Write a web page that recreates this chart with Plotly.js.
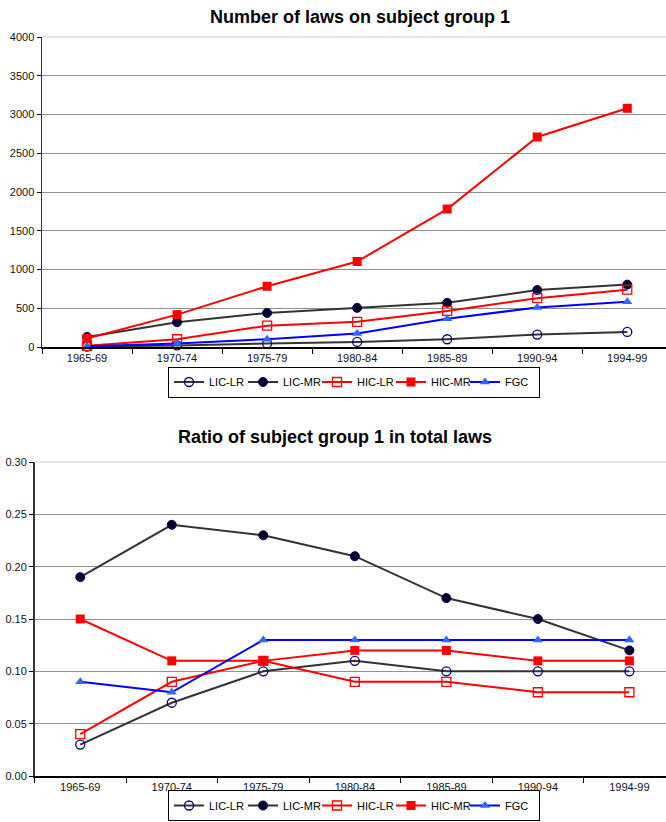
<!DOCTYPE html>
<html>
<head>
<meta charset="utf-8">
<script src="https://cdn.plot.ly/plotly-3.0.1.min.js"></script>
<style>
  html, body { margin: 0; padding: 0; background: #ffffff; }
  #chart { width: 666px; height: 822px; }
</style>
</head>
<body>
<div id="chart"></div>
<script>
// Five-year periods on the category axis
const periods = ['1965-69', '1970-74', '1975-79', '1980-84', '1985-89', '1990-94', '1994-99'];
const seriesNames = ['LIC-LR', 'LIC-MR', 'HIC-LR', 'HIC-MR', 'FGC'];

// Number of laws on subject group 1
const lawsLicLr = [5, 20, 45, 65, 100, 160, 195];
const lawsLicMr = [130, 320, 440, 505, 570, 735, 805];
const lawsHicLr = [15, 100, 275, 325, 465, 630, 740];
const lawsHicMr = [110, 418, 784, 1103, 1780, 2710, 3080];
const lawsFgc   = [10, 45, 100, 175, 365, 510, 585];

// Ratio of subject group 1 in total laws
const ratioLicLr = [0.03, 0.07, 0.10, 0.11, 0.10, 0.10, 0.10];
const ratioLicMr = [0.19, 0.24, 0.23, 0.21, 0.17, 0.15, 0.12];
const ratioHicLr = [0.04, 0.09, 0.11, 0.09, 0.09, 0.08, 0.08];
const ratioHicMr = [0.15, 0.11, 0.11, 0.12, 0.12, 0.11, 0.11];
const ratioFgc   = [0.09, 0.08, 0.13, 0.13, 0.13, 0.13, 0.13];

// y-axis tick values
const lawsTicks = [0, 500, 1000, 1500, 2000, 2500, 3000, 3500, 4000];
const ratioTicks = [0, 0.05, 0.10, 0.15, 0.20, 0.25, 0.30];

const styles = [
  { line: '#333333', marker: { symbol: 'circle-open', color: '#000080', size: 9, line: { width: 1.3, color: '#000080' } } },
  { line: '#333333', marker: { symbol: 'circle', color: '#000022', size: 9, line: { width: 1, color: '#000080' } } },
  { line: '#ff0000', marker: { symbol: 'square-open', color: '#ff0000', size: 9, line: { width: 1.3, color: '#ff0000' } } },
  { line: '#ff0000', marker: { symbol: 'square', color: '#ff0000', size: 9, line: { width: 0 } } },
  { line: '#0000ff', marker: { symbol: 'triangle-up', color: '#3366ff', size: 9, line: { width: 0 } } }
];

const lawsData = [lawsLicLr, lawsLicMr, lawsHicLr, lawsHicMr, lawsFgc];
const ratioData = [ratioLicLr, ratioLicMr, ratioHicLr, ratioHicMr, ratioFgc];

const traces = [];
seriesNames.forEach((name, i) => {
  traces.push({
    type: 'scatter', mode: 'lines+markers', name: name,
    x: periods, y: lawsData[i], xaxis: 'x', yaxis: 'y', legend: 'legend',
    line: { color: styles[i].line, width: 2 },
    marker: styles[i].marker,
    cliponaxis: false
  });
});
seriesNames.forEach((name, i) => {
  traces.push({
    type: 'scatter', mode: 'lines+markers', name: name,
    x: periods, y: ratioData[i], xaxis: 'x2', yaxis: 'y2', legend: 'legend2',
    line: { color: styles[i].line, width: 2 },
    marker: styles[i].marker,
    cliponaxis: false
  });
});

const W = 666, H = 822;
const px = v => v / W;
const py = v => (H - v) / H;

const tickFont = { family: 'Arial, Liberation Sans, sans-serif', size: 11, color: '#111111' };

const catAxis = (left, max) => ({
  domain: [px(left), 1],
  type: 'category',
  range: [-0.5, max],
  tickson: 'boundaries',
  ticks: 'outside', ticklen: 5, tickcolor: '#000000', tickwidth: 1,
  showline: true, linecolor: '#000000', linewidth: 1.5,
  showgrid: false, zeroline: false,
  tickfont: tickFont, fixedrange: true
});

const valAxis = (top, bottom, range, ticks, fmt) => ({
  domain: [py(bottom), py(top)],
  range: range,
  tickmode: 'array', tickvals: ticks, tickformat: fmt,
  ticks: 'outside', ticklen: 4, tickcolor: '#000000', tickwidth: 1,
  showline: true, linecolor: '#333333', linewidth: 1.5,
  showgrid: true, gridcolor: '#8f8f8f', gridwidth: 1,
  zeroline: false,
  tickfont: tickFont, fixedrange: true
});

const legendBase = {
  orientation: 'h',
  xanchor: 'center',
  bgcolor: '#ffffff', bordercolor: '#000000', borderwidth: 1,
  font: { family: 'Arial, Liberation Sans, sans-serif', size: 11, color: '#000000' },
  itemwidth: 30, entrywidth: 29, entrywidthmode: 'pixels',
  tracegroupgap: 0
};

const titleFont = { family: 'Arial, Liberation Sans, sans-serif', size: 18, color: '#000000', weight: 'bold' };

const layout = {
  width: W, height: H,
  margin: { l: 0, r: 0, t: 0, b: 0, autoexpand: false },
  paper_bgcolor: '#ffffff', plot_bgcolor: '#ffffff',
  showlegend: true,
  xaxis: catAxis(42, 6.43),
  yaxis: Object.assign(valAxis(37, 347, [0, 4000], lawsTicks, 'd'), { anchor: 'x' }),
  xaxis2: Object.assign(catAxis(34.5, 6.40), { anchor: 'y2' }),
  yaxis2: Object.assign(valAxis(462, 776, [0, 0.30], ratioTicks, '.2f'), { anchor: 'x2' }),
  legend: Object.assign({}, legendBase, { x: px(354), y: py(382), yanchor: 'middle' }),
  legend2: Object.assign({}, legendBase, { x: px(354), y: py(821), yanchor: 'bottom' }),
  shapes: [
    // lighter frame edge along the top of each plot area
    { type: 'line', xref: 'x domain', yref: 'y domain', x0: 0, x1: 1, y0: 1, y1: 1,
      line: { color: '#dedede', width: 1.5 }, layer: 'above' },
    { type: 'line', xref: 'x2 domain', yref: 'y2 domain', x0: 0, x1: 1, y0: 1, y1: 1,
      line: { color: '#dedede', width: 1.5 }, layer: 'above' }
  ],
  annotations: [
    { text: '<b>Number of laws on subject group 1</b>', xref: 'paper', yref: 'paper',
      x: px(360), y: py(17), xanchor: 'center', yanchor: 'middle', showarrow: false, font: titleFont },
    { text: '<b>Ratio of subject group 1 in total laws</b>', xref: 'paper', yref: 'paper',
      x: px(335), y: py(437), xanchor: 'center', yanchor: 'middle', showarrow: false, font: titleFont }
  ]
};

Plotly.newPlot('chart', traces, layout, { displayModeBar: false, staticPlot: true });
</script>
</body>
</html>
